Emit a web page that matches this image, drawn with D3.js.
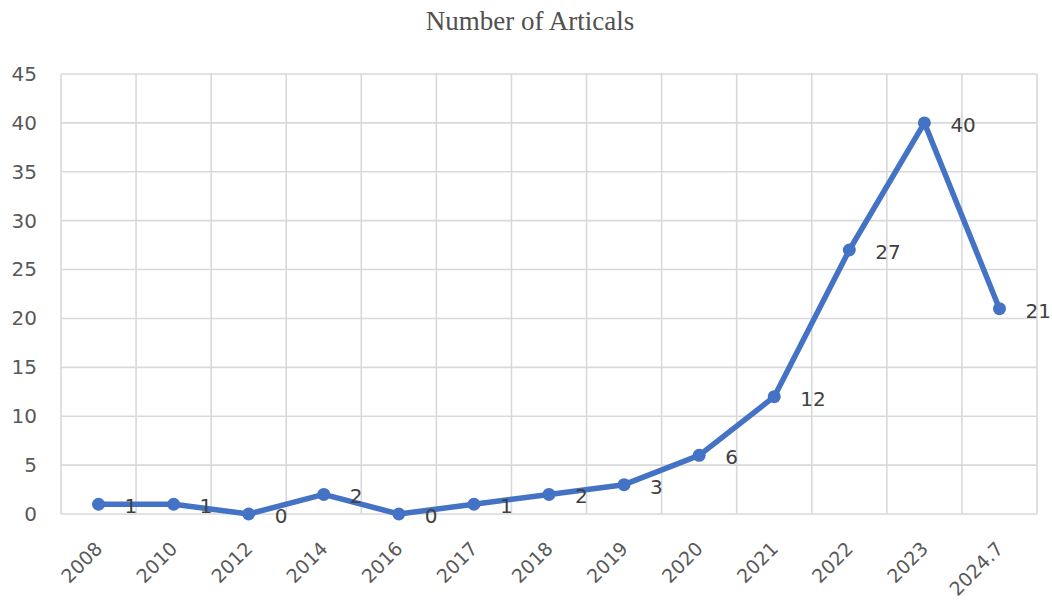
<!DOCTYPE html>
<html><head><meta charset="utf-8">
<script src="https://cdn.jsdelivr.net/npm/d3@7"></script>
<style>body{margin:0;background:#fff}</style>
</head><body>
<svg id="c" width="1052" height="601"></svg>
<script>
const categories = ["2008","2010","2012","2014","2016","2017","2018","2019","2020","2021","2022","2023","2024.7"];
const values = [1,1,0,2,0,1,2,3,6,12,27,40,21];
const yTicks = [0,5,10,15,20,25,30,35,40,45];
const title = "Number of Articals";

const svg = d3.select("#c");
const m = {l:61, r:1037, t:74, b:514};
const x = d3.scaleBand().domain(categories).range([m.l, m.r]);
const y = d3.scaleLinear().domain([0,45]).range([m.b, m.t]);
const FONT = "'DejaVu Sans',sans-serif";

svg.append("text").attr("x",530).attr("y",30).attr("text-anchor","middle")
  .attr("font-family","'Liberation Serif','Times New Roman',serif").attr("font-size",27)
  .attr("fill","#505050").text(title);

const grid = svg.append("g");
grid.selectAll("line.h").data(yTicks).join("line")
  .attr("x1",m.l).attr("x2",m.r).attr("y1",d=>y(d)).attr("y2",d=>y(d))
  .attr("stroke","#d9d9d9").attr("stroke-width",1.6);
const edges = categories.map(c=>x(c)).concat([m.r]);
grid.selectAll("line.v").data(edges).join("line")
  .attr("x1",d=>d).attr("x2",d=>d).attr("y1",m.t).attr("y2",m.b)
  .attr("stroke","#d9d9d9").attr("stroke-width",1.6);

const yAxis = d3.axisLeft(y).tickValues(yTicks).tickSize(0).tickPadding(24);
const gy = svg.append("g").attr("transform",`translate(${m.l},0)`).call(yAxis);
gy.select(".domain").remove();
gy.selectAll("text").attr("font-family",FONT).attr("font-size",20).attr("fill","#595959");

const xAxis = d3.axisBottom(x).tickSize(0).tickPadding(0);
const gx = svg.append("g").attr("transform",`translate(0,${m.b})`).call(xAxis);
gx.select(".domain").remove();
gx.selectAll("text").attr("font-family",FONT).attr("font-size",19).attr("fill","#595959")
  .attr("text-anchor","end").attr("dy",null).attr("y",null)
  .attr("transform","translate(5,36) rotate(-45)");

const cx = d=>x(d.c)+x.bandwidth()/2;
const pts = categories.map((c,i)=>({c, v:values[i]}));
svg.append("path").datum(pts)
  .attr("d", d3.line().x(cx).y(d=>y(d.v)))
  .attr("fill","none").attr("stroke","#4472c4").attr("stroke-width",5.5).attr("stroke-linejoin","round");
svg.selectAll("circle.pt").data(pts).join("circle")
  .attr("cx",cx).attr("cy",d=>y(d.v)).attr("r",6.5).attr("fill","#4472c4");
svg.selectAll("text.lbl").data(pts).join("text")
  .attr("x",d=>cx(d)+26).attr("y",d=>y(d.v)+9)
  .attr("font-family",FONT).attr("font-size",20).attr("fill","#404040")
  .text(d=>d.v);
</script>
</body></html>
